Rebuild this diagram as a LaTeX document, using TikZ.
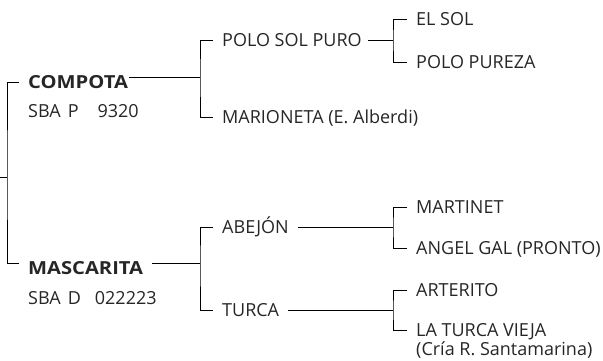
\documentclass[tikz,border=0pt]{standalone}
\usepackage{fontspec}
\setmainfont{Open Sans}
\newfontfamily\damfont{Open Sans}[FakeStretch=1.12]
\begin{document}
\begin{tikzpicture}[x=1pt,y=-1pt,
  every node/.style={font=\fontsize{18}{21}\selectfont,text=black!85},
  horse/.style={anchor=west,inner xsep=9pt,inner ysep=0pt,text height=12.5pt,text depth=0pt},
  dam/.style={horse,font=\fontsize{18}{21}\damfont\bfseries},
  link/.style={line width=.9pt}
]
  \useasboundingbox (0,0) rectangle (603,360);
  \coordinate (root) at (0,177);
  \coordinate (rj) at (7,177);
  \coordinate (cj) at (200,77);
  \coordinate (mj) at (200,263);
  \coordinate (pj) at (393,40);
  \coordinate (aj) at (393,227);
  \coordinate (tj) at (393,310);

  \node[dam] (compota) at (19,82) {COMPOTA};
  \node[horse] (compotareg) at (19,111) {SBA\hspace{7pt}P\hspace{19pt}9320};
  \node[dam] (mascarita) at (19,268) {MASCARITA};
  \node[horse] (mascaritareg) at (19,298) {SBA\hspace{7pt}D\hspace{14pt}022223};

  \node[horse] (polo) at (213,40) {POLO SOL PURO};
  \node[horse] (marioneta) at (213,117) {MARIONETA (E. Alberdi)};
  \node[horse] (abejon) at (213,227) {ABEJÓN};
  \node[horse] (turca) at (213,310) {TURCA};

  \node[horse] (elsol) at (407,19) {EL SOL};
  \node[horse] (polopureza) at (407,62) {POLO PUREZA};
  \node[horse] (martinet) at (407,207) {MARTINET};
  \node[horse] (angel) at (407,248) {ANGEL GAL (PRONTO)};
  \node[horse] (arterito) at (407,290) {ARTERITO};
  \node[horse] (vieja) at (407,330) {LA TURCA VIEJA};
  \node[horse] (viejanote) at (407,349) {(Cría R. Santamarina)};

  \draw[link] (root) -- (rj);
  \draw[link] (compota.west) -| (rj) |- ([yshift=5pt]mascarita.west);
  \draw[link] ([yshift=5pt,xshift=-8pt]compota.east) -- (cj);
  \draw[link] ([yshift=5pt]mascarita.east) -- (mj);
  \draw[link] (polo.west) -| (cj) |- (marioneta.west);
  \draw[link] (abejon.west) -| (mj) |- (turca.west);
  \draw[link] ([xshift=-3pt]polo.east) -- (pj);
  \draw[link] (abejon.east) -- (aj);
  \draw[link] (turca.east) -- (tj);
  \draw[link] (elsol.west) -| (pj) |- (polopureza.west);
  \draw[link] (martinet.west) -| (aj) |- (angel.west);
  \draw[link] (arterito.west) -| (tj) |- (vieja.west);
\end{tikzpicture}
\end{document}
